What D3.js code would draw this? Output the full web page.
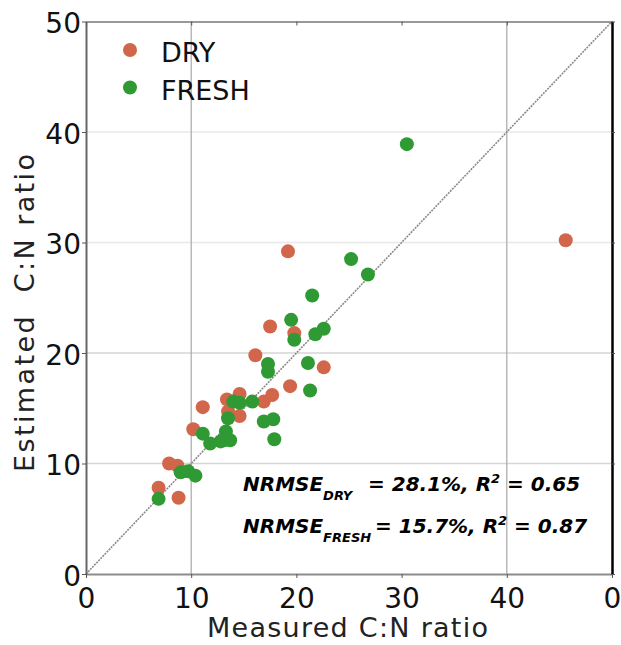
<!DOCTYPE html>
<html>
<head>
<meta charset="utf-8">
<script src="https://cdn.jsdelivr.net/npm/d3@7"></script>
<style>
  body { margin: 0; background: #fff; }
  text { font-family: "DejaVu Sans", sans-serif; }
</style>
</head>
<body>
<div id="chart"></div>
<script>
// measured vs estimated C:N ratio
const dryMeasured = [6.9, 7.9, 8.7, 8.8, 10.2, 11.1, 13.4, 14.6, 13.5, 14.6, 16.1, 16.9, 17.7, 17.5, 19.2, 19.8, 19.4, 22.6, 45.6];
const dryEstimated = [7.8, 10.0, 9.8, 6.9, 13.1, 15.1, 15.8, 16.3, 14.7, 14.3, 19.8, 15.6, 16.2, 22.4, 29.2, 21.8, 17.0, 18.7, 30.2];

const freshMeasured = [6.9, 9.0, 9.7, 10.4, 11.1, 11.8, 12.8, 13.1, 13.7, 13.3, 13.5, 14.0, 14.6, 15.8, 16.9, 17.8, 17.9, 17.3, 17.3, 19.8, 19.5, 21.1, 21.3, 21.8, 22.6, 21.5, 25.2, 26.8, 30.5];
const freshEstimated = [6.8, 9.2, 9.3, 8.9, 12.7, 11.8, 12.0, 12.1, 12.1, 12.9, 14.1, 15.6, 15.5, 15.6, 13.8, 14.0, 12.2, 19.0, 18.3, 21.2, 23.0, 19.1, 16.6, 21.7, 22.2, 25.2, 28.5, 27.1, 38.9];

const xTicks = [0, 10, 20, 30, 40, 50];
const xTickLabels = ["0", "10", "20", "30", "40", "0"];
const yTicks = [0, 10, 20, 30, 40, 50];
const yTickLabels = ["0", "10", "20", "30", "40", "50"];
const hGrid = [10, 20, 30, 40];
const vGrid = [10, 40];

const seriesNames = ["DRY", "FRESH"];
const seriesColors = ["#d1664b", "#2f9a33"];

const width = 621, height = 645;
const plotLeft = 86, plotRight = 612, plotTop = 21.5, plotBottom = 574;

const svg = d3.select("#chart").append("svg")
  .attr("width", width)
  .attr("height", height);

const x = d3.scaleLinear().domain([0, 50]).range([plotLeft, plotRight]);
const y = d3.scaleLinear().domain([0, 50]).range([plotBottom, plotTop]);

// grid
svg.append("g")
  .selectAll("line")
  .data(hGrid)
  .enter()
  .append("line")
  .attr("x1", plotLeft).attr("x2", plotRight)
  .attr("y1", (d) => y(d)).attr("y2", (d) => y(d))
  .attr("stroke", (d) => (d <= 20 ? "#d6d6d6" : "#e8e8e8"))
  .attr("stroke-width", 1.5);

svg.append("g")
  .selectAll("line")
  .data(vGrid)
  .enter()
  .append("line")
  .attr("x1", (d) => x(d)).attr("x2", (d) => x(d))
  .attr("y1", plotTop).attr("y2", plotBottom)
  .attr("stroke", "#a8a8a8")
  .attr("stroke-width", 1.2);

// 1:1 line
svg.append("line")
  .attr("x1", x(0)).attr("y1", y(0))
  .attr("x2", x(50)).attr("y2", y(50))
  .attr("stroke", "#8a8a8a")
  .attr("stroke-width", 1.6)
  .attr("stroke-dasharray", "2,1");

// axes
const xAxis = svg.append("g")
  .attr("transform", `translate(0,${plotBottom})`)
  .call(d3.axisBottom(x).tickValues(xTicks).tickSize(4).tickSizeOuter(0)
    .tickFormat((d, i) => xTickLabels[i]));
xAxis.select(".domain").attr("stroke", "#8c8c8c").attr("stroke-width", 2);
xAxis.selectAll(".tick line").attr("stroke", "#555");
xAxis.selectAll(".tick text")
  .attr("font-size", 28)
  .attr("font-family", "DejaVu Sans")
  .attr("fill", "#111")
  .attr("dy", "0.95em");

const yAxis = svg.append("g")
  .attr("transform", `translate(${plotLeft},0)`)
  .call(d3.axisLeft(y).tickValues(yTicks).tickSize(4).tickSizeOuter(0)
    .tickFormat((d, i) => yTickLabels[i]));
yAxis.select(".domain").attr("stroke", "#666").attr("stroke-width", 2);
yAxis.selectAll(".tick line").attr("stroke", "#555");
yAxis.selectAll(".tick text")
  .attr("font-size", 28)
  .attr("font-family", "DejaVu Sans")
  .attr("fill", "#111")
  .attr("x", -5)
  .attr("dy", "0.4em");

const topAxis = svg.append("g")
  .attr("transform", `translate(0,${plotTop})`)
  .call(d3.axisBottom(x).tickValues(xTicks).tickSize(4).tickSizeOuter(0).tickFormat(""));
topAxis.select(".domain").attr("stroke", "#777").attr("stroke-width", 1.5);
topAxis.selectAll(".tick line").attr("stroke", "#555");

const rightAxis = svg.append("g")
  .attr("transform", `translate(${plotRight},0)`)
  .call(d3.axisRight(y).tickValues(yTicks).tickSize(3).tickSizeOuter(0).tickFormat(""));
rightAxis.select(".domain").attr("stroke", "#000").attr("stroke-width", 2.5);
rightAxis.selectAll(".tick line").attr("stroke", "#555");

// points
const series = [
  dryMeasured.map((m, i) => ({ m, e: dryEstimated[i] })),
  freshMeasured.map((m, i) => ({ m, e: freshEstimated[i] }))
];

series.forEach((pts, k) => {
  svg.append("g")
    .selectAll("circle")
    .data(pts)
    .enter()
    .append("circle")
    .attr("cx", (d) => x(d.m))
    .attr("cy", (d) => y(d.e))
    .attr("r", 7)
    .attr("fill", seriesColors[k]);
});

// legend
const legend = svg.append("g").attr("transform", "translate(130,50)");
seriesNames.forEach((name, k) => {
  legend.append("circle")
    .attr("cx", 0).attr("cy", k * 37.5)
    .attr("r", 7)
    .attr("fill", seriesColors[k]);
  legend.append("text")
    .attr("x", 31).attr("y", k * 37.5 + 12)
    .attr("font-size", 27)
    .attr("fill", "#111")
    .text(name);
});

// axis titles
svg.append("text")
  .attr("x", 347.5)
  .attr("y", 637)
  .attr("text-anchor", "middle")
  .attr("font-size", 27)
  .attr("fill", "#222")
  .attr("textLength", 281)
  .attr("lengthAdjust", "spacing")
  .text("Measured C:N ratio");

svg.append("text")
  .attr("transform", "translate(34,313) rotate(-90)")
  .attr("text-anchor", "middle")
  .attr("font-size", 27)
  .attr("fill", "#222")
  .attr("textLength", 318)
  .attr("lengthAdjust", "spacing")
  .style("white-space", "pre")
  .text("Estimated  C:N ratio");

// stats annotation
const stats = [
  { sub: "DRY", rest: "= 28.1%, R", r2: "= 0.65", y: 491, restX: 368 },
  { sub: "FRESH", rest: "= 15.7%, R", r2: "= 0.87", y: 533, restX: 375 }
];
stats.forEach((s) => {
  const t = svg.append("text")
    .attr("x", 243).attr("y", s.y)
    .attr("font-size", 20)
    .attr("font-weight", "bold")
    .attr("font-style", "italic")
    .attr("fill", "#000")
    .style("white-space", "pre");
  t.append("tspan").text("NRMSE");
  t.append("tspan").attr("dy", 9).attr("font-size", 13).text(s.sub);
  t.append("tspan").attr("x", s.restX).attr("y", s.y).text(s.rest);
  t.append("tspan").attr("dy", -8).attr("font-size", 13).text("2");
  t.append("tspan").attr("dy", 8).text(" " + s.r2);
});
</script>
</body>
</html>
